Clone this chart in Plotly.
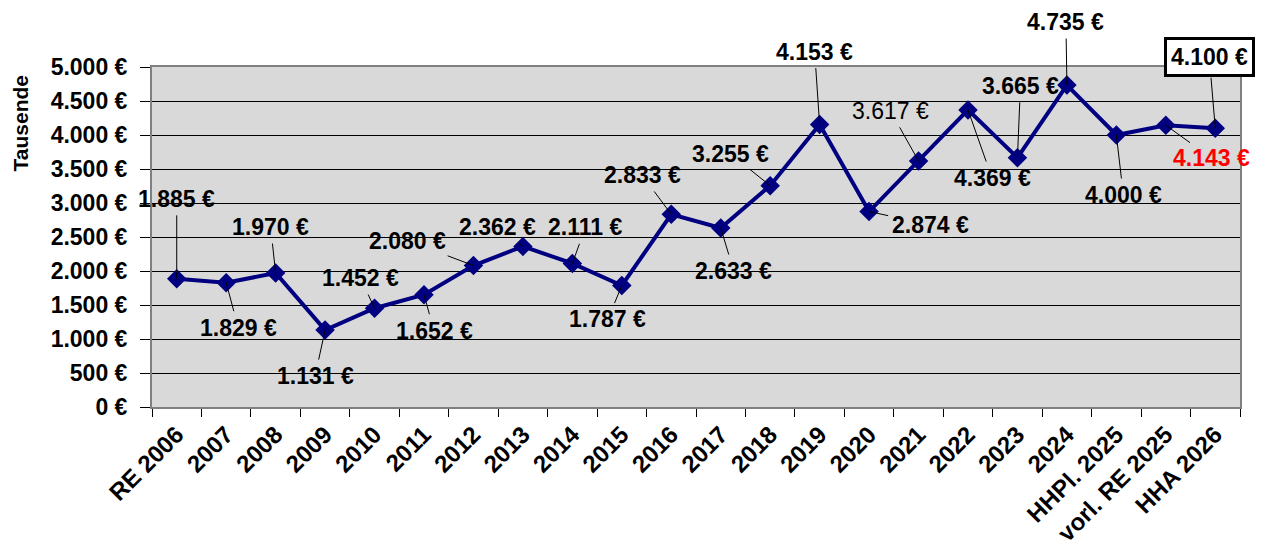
import plotly.graph_objects as go

categories = ["RE 2006", "2007", "2008", "2009", "2010", "2011", "2012", "2013", "2014",
              "2015", "2016", "2017", "2018", "2019", "2020", "2021", "2022", "2023",
              "2024", "HHPl. 2025", "vorl. RE 2025", "HHA 2026"]
values = [1885, 1829, 1970, 1131, 1452, 1652, 2080, 2362, 2111, 1787, 2833, 2633,
          3255, 4153, 2874, 3617, 4369, 3665, 4735, 4000, 4143, 4100]
value_labels = ["1.885 €", "1.829 €", "1.970 €", "1.131 €", "1.452 €", "1.652 €", "2.080 €",
                "2.362 €", "2.111 €", "1.787 €", "2.833 €", "2.633 €", "3.255 €", "4.153 €",
                "2.874 €", "3.617 €", "4.369 €", "3.665 €", "4.735 €", "4.000 €", "4.143 €",
                "4.100 €"]
tick_values = [0, 500, 1000, 1500, 2000, 2500, 3000, 3500, 4000, 4500, 5000]
tick_labels = ["0 €", "500 €", "1.000 €", "1.500 €", "2.000 €", "2.500 €", "3.000 €",
               "3.500 €", "4.000 €", "4.500 €", "5.000 €"]

# label offsets in pixels (text centre relative to point)
offsets = [(0, -80), (12, 45), (-5, -46), (-10, 46), (-14, -30), (10, 36), (-66, -25),
           (-25, -19), (13, -36), (-14, 34), (-29, -39), (13, 43), (-40, -32), (-5, -73),
           (61, 13), (-28, -50), (24, 68), (3, -72), (-1, -63), (7, 60), (46, 33), (-6, -71)]

FONT = "Liberation Sans, Arial, sans-serif"

fig = go.Figure()
fig.add_trace(go.Scatter(
    x=categories, y=values, mode="lines+markers",
    line=dict(color="#000080", width=4),
    marker=dict(symbol="diamond", size=15, color="#000080"),
    hoverinfo="skip", showlegend=False,
))

annotations = []
for i, (v, t) in enumerate(zip(values, value_labels)):
    ax, ay = offsets[i]
    ann = dict(x=i, y=v, xref="x", yref="y", ax=ax, ay=ay,
               showarrow=True, arrowhead=0, arrowwidth=1, arrowcolor="black",
               standoff=0, startstandoff=2,
               font=dict(family=FONT, size=23, color="black"))
    if t == "3.617 €":
        ann["text"] = t
    elif t == "4.143 €":
        ann["text"] = "<b>" + t + "</b>"
        ann["font"]["color"] = "#FF0000"
    elif t == "4.100 €":
        ann["text"] = "<b>" + t + "</b>"
        ann.update(bgcolor="white", bordercolor="black", borderwidth=3, borderpad=4)
    else:
        ann["text"] = "<b>" + t + "</b>"
    annotations.append(ann)

annotations.append(dict(text="<b>Tausende</b>", xref="paper", yref="paper",
                        x=-0.121, y=0.835, textangle=-90, showarrow=False,
                        font=dict(family=FONT, size=21, color="black"),
                        xanchor="center", yanchor="middle"))

fig.update_layout(
    width=1257, height=546,
    margin=dict(l=144, r=25, t=59, b=147),
    paper_bgcolor="white", plot_bgcolor="#D9D9D9",
    annotations=annotations,
    font=dict(family=FONT, color="black"),
)
fig.update_xaxes(
    type="category", range=[-0.5, len(categories) - 0.5], automargin=False,
    tickson="boundaries", ticks="outside", ticklen=8,
    tickcolor="black", tickwidth=1, tickangle=-45, ticklabelstandoff=2,
    tickfont=dict(family=FONT, size=24, color="black", weight="bold"),
    showgrid=False, showline=True, linecolor="#808080", linewidth=2, mirror=True,
)
fig.update_yaxes(
    range=[0, 5000], tickvals=tick_values, ticktext=tick_labels, automargin=False,
    ticks="outside", ticklen=10, tickcolor="black", tickwidth=1, ticklabelstandoff=8,
    tickfont=dict(family=FONT, size=23, color="black", weight="bold"),
    showgrid=True, gridcolor="black", gridwidth=1, zeroline=False,
    showline=True, linecolor="#808080", linewidth=2, mirror=True,
)

fig.write_html("out.html")
